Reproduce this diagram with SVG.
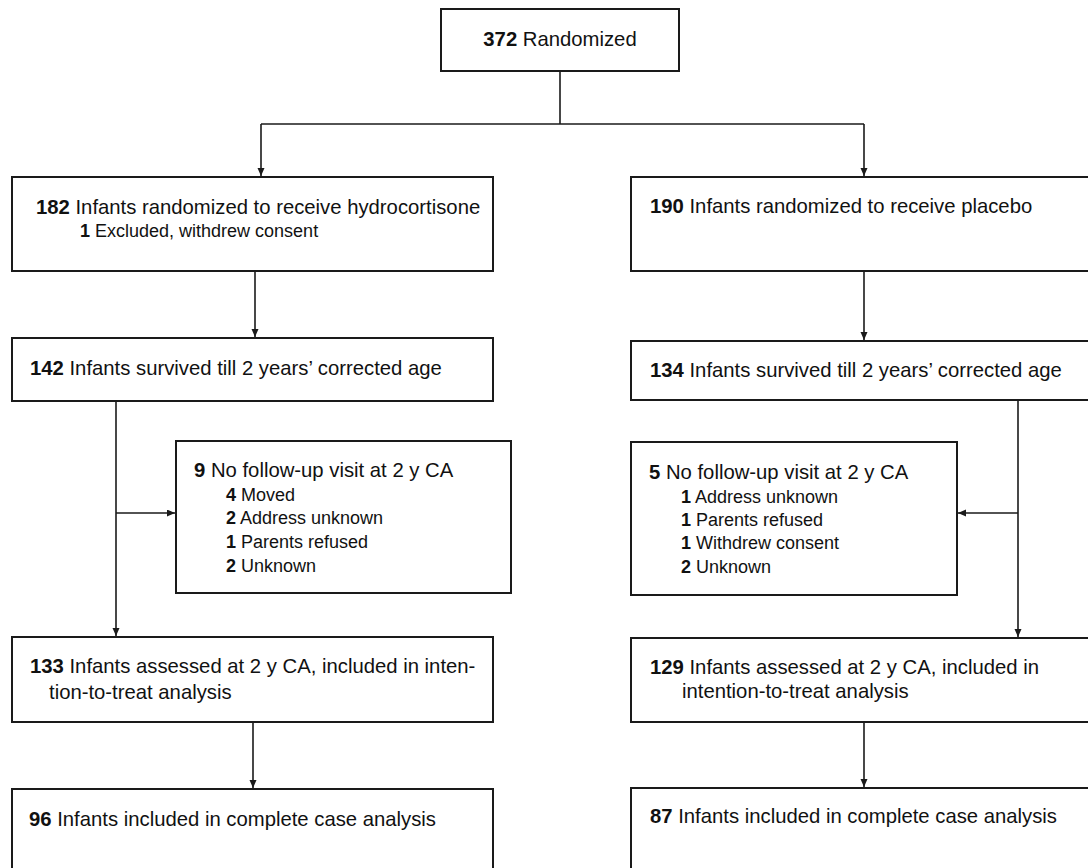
<svg xmlns="http://www.w3.org/2000/svg" width="1088" height="868" viewBox="0 0 1088 868">
<style>
.box{fill:#fff;stroke:#1a1a1a;stroke-width:2}
.t{font-family:"Liberation Sans",Arial,sans-serif;font-size:20.3px;fill:#111}
.s{font-family:"Liberation Sans",Arial,sans-serif;font-size:18px;fill:#111}
.b{font-weight:bold}
.c{fill:none;stroke:#1a1a1a;stroke-width:1.6}
</style>
<defs>
<marker id="ah" markerUnits="userSpaceOnUse" markerWidth="9" markerHeight="8" refX="8" refY="3.5" orient="auto">
<path d="M0,0 L8,3.5 L0,7 z" fill="#1a1a1a"/>
</marker>
</defs>
<rect width="1088" height="868" fill="#fff"/>
<g id="connectors">
<line class="c" x1="560" y1="71" x2="560" y2="124"/>
<line class="c" x1="261" y1="124" x2="864" y2="124"/>
<line class="c" x1="261" y1="124" x2="261" y2="176" marker-end="url(#ah)"/>
<line class="c" x1="864" y1="124" x2="864" y2="176" marker-end="url(#ah)"/>
<line class="c" x1="255" y1="271" x2="255" y2="337" marker-end="url(#ah)"/>
<line class="c" x1="864" y1="271" x2="864" y2="340" marker-end="url(#ah)"/>
<line class="c" x1="116" y1="401" x2="116" y2="636" marker-end="url(#ah)"/>
<line class="c" x1="116" y1="513" x2="175" y2="513" marker-end="url(#ah)"/>
<line class="c" x1="1018" y1="400" x2="1018" y2="637" marker-end="url(#ah)"/>
<line class="c" x1="1018" y1="513" x2="958" y2="513" marker-end="url(#ah)"/>
<line class="c" x1="253" y1="722" x2="253" y2="788" marker-end="url(#ah)"/>
<line class="c" x1="864" y1="722" x2="864" y2="787" marker-end="url(#ah)"/>
</g>
<g id="randomized">
<rect class="box" x="441" y="9" width="238" height="62"/>
<text class="t" x="560" y="46" text-anchor="middle"><tspan class="b">372</tspan> Randomized</text>
</g>
<g id="hydrocortisone">
<rect class="box" x="12" y="177" width="481" height="94"/>
<text class="t" x="36" y="214"><tspan class="b">182</tspan> Infants randomized to receive hydrocortisone</text>
<text class="s" x="80" y="237"><tspan class="b">1</tspan> Excluded, withdrew consent</text>
</g>
<g id="placebo">
<rect class="box" x="631" y="177" width="464" height="94"/>
<text class="t" x="650" y="213"><tspan class="b">190</tspan> Infants randomized to receive placebo</text>
</g>
<g id="survived-left">
<rect class="box" x="12" y="338" width="481" height="63"/>
<text class="t" x="30" y="375"><tspan class="b">142</tspan> Infants survived till 2 years’ corrected age</text>
</g>
<g id="survived-right">
<rect class="box" x="631" y="341" width="464" height="59"/>
<text class="t" x="650" y="377"><tspan class="b">134</tspan> Infants survived till 2 years’ corrected age</text>
</g>
<g id="nofollow-left">
<rect class="box" x="176" y="441" width="335" height="152"/>
<text class="t" x="194" y="477"><tspan class="b">9</tspan> No follow-up visit at 2 y CA</text>
<text class="s" x="226" y="501"><tspan class="b">4</tspan> Moved</text>
<text class="s" x="226" y="524"><tspan class="b">2</tspan> Address unknown</text>
<text class="s" x="226" y="548"><tspan class="b">1</tspan> Parents refused</text>
<text class="s" x="226" y="572"><tspan class="b">2</tspan> Unknown</text>
</g>
<g id="nofollow-right">
<rect class="box" x="631" y="442" width="326" height="153"/>
<text class="t" x="649" y="479"><tspan class="b">5</tspan> No follow-up visit at 2 y CA</text>
<text class="s" x="681" y="503"><tspan class="b">1</tspan> Address unknown</text>
<text class="s" x="681" y="526"><tspan class="b">1</tspan> Parents refused</text>
<text class="s" x="681" y="549"><tspan class="b">1</tspan> Withdrew consent</text>
<text class="s" x="681" y="573"><tspan class="b">2</tspan> Unknown</text>
</g>
<g id="itt-left">
<rect class="box" x="12" y="637" width="481" height="85"/>
<text class="t" x="30" y="673"><tspan class="b">133</tspan> Infants assessed at 2 y CA, included in inten-</text>
<text class="t" x="49" y="699">tion-to-treat analysis</text>
</g>
<g id="itt-right">
<rect class="box" x="631" y="638" width="464" height="84"/>
<text class="t" x="650" y="674"><tspan class="b">129</tspan> Infants assessed at 2 y CA, included in</text>
<text class="t" x="682" y="698">intention-to-treat analysis</text>
</g>
<g id="complete-left">
<rect class="box" x="12" y="789" width="481" height="100"/>
<text class="t" x="29" y="826"><tspan class="b">96</tspan> Infants included in complete case analysis</text>
</g>
<g id="complete-right">
<rect class="box" x="631" y="788" width="464" height="100"/>
<text class="t" x="650" y="823"><tspan class="b">87</tspan> Infants included in complete case analysis</text>
</g>
</svg>
